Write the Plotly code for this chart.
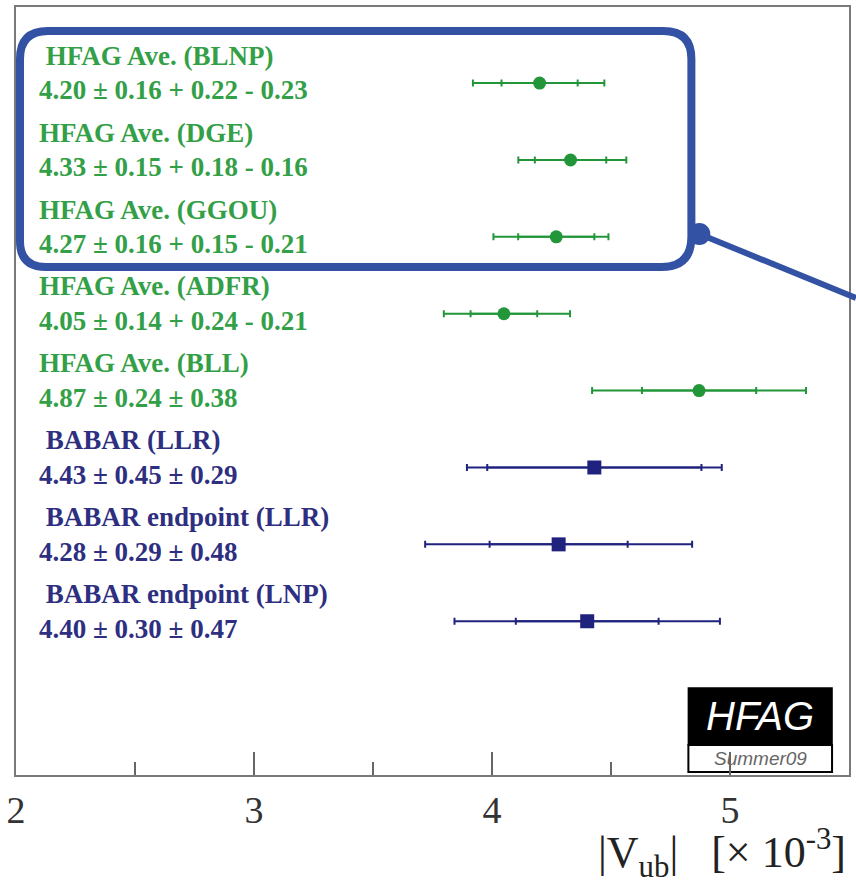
import plotly.graph_objects as go

# ---------------- data ----------------
names = ["\u00a0HFAG Ave. (BLNP)", "HFAG Ave. (DGE)", "HFAG Ave. (GGOU)",
         "HFAG Ave. (ADFR)", "HFAG Ave. (BLL)", "\u00a0BABAR (LLR)",
         "\u00a0BABAR endpoint (LLR)", "\u00a0BABAR endpoint (LNP)"]
values = [4.20, 4.33, 4.27, 4.05, 4.87, 4.43, 4.28, 4.40]
stat = [0.16, 0.15, 0.16, 0.14, 0.24, 0.45, 0.29, 0.30]
syst_plus = [0.22, 0.18, 0.15, 0.24, 0.38, 0.29, 0.48, 0.47]
syst_minus = [0.23, 0.16, 0.21, 0.21, 0.38, 0.29, 0.48, 0.47]
groups = ["HFAG", "HFAG", "HFAG", "HFAG", "HFAG", "BABAR", "BABAR", "BABAR"]
x_ticks = [2, 3, 4, 5]

GREEN_TXT = "#33a047"
GREEN = "#23963a"
NAVY_TXT = "#2e2f80"
NAVY = "#1f237e"
CALLOUT = "#3452a4"

rows = list(range(len(names)))
tot_plus = [(s ** 2 + p ** 2) ** 0.5 for s, p in zip(stat, syst_plus)]
tot_minus = [(s ** 2 + m ** 2) ** 0.5 for s, m in zip(stat, syst_minus)]

def fmt(v, s, p, m):
    if abs(p - m) < 1e-9:
        return f"{v:.2f} \u00b1 {s:.2f} \u00b1 {p:.2f}"
    return f"{v:.2f} \u00b1 {s:.2f} + {p:.2f} - {m:.2f}"

value_labels = [fmt(v, s, p, m) for v, s, p, m in zip(values, stat, syst_plus, syst_minus)]

fig = go.Figure()

for grp, col, sym, size in [("HFAG", GREEN, "circle", 13), ("BABAR", NAVY, "square", 14)]:
    idx = [i for i, g in enumerate(groups) if g == grp]
    xs = [values[i] for i in idx]
    ys = [rows[i] for i in idx]
    # total error
    fig.add_trace(go.Scatter(
        x=xs, y=ys, mode="markers", marker=dict(size=1, color="rgba(0,0,0,0)"),
        error_x=dict(type="data", symmetric=False,
                     array=[tot_plus[i] for i in idx],
                     arrayminus=[tot_minus[i] for i in idx],
                     color=col, thickness=2, width=3.5),
        showlegend=False, hoverinfo="skip"))
    # statistical error + central value
    fig.add_trace(go.Scatter(
        x=xs, y=ys, mode="markers",
        marker=dict(size=size, color=col, symbol=sym, line=dict(width=0)),
        error_x=dict(type="data", array=[stat[i] for i in idx],
                     color=col, thickness=2, width=3.5),
        showlegend=False))

# ---------------- layout geometry helpers (decorations) ----------------
PL, PR, PT, PB = 16, 851, 7, 775

def fx(px):
    return (px - PL) / (PR - PL)

def fy(py):
    return (PB - py) / (PB - PT)

annotations = []
for i in rows:
    col = GREEN_TXT if groups[i] == "HFAG" else NAVY_TXT
    annotations.append(dict(x=fx(37), y=rows[i] - 0.355, xref="paper", yref="y",
                            text=names[i], showarrow=False, xanchor="left", yanchor="middle",
                            font=dict(family="Liberation Serif", size=27, color=col, weight="bold")))
    annotations.append(dict(x=fx(37), y=rows[i] + 0.095, xref="paper", yref="y",
                            text=value_labels[i], showarrow=False, xanchor="left", yanchor="middle",
                            font=dict(family="Liberation Serif", size=27, color=col, weight="bold")))

# axis title
annotations.append(dict(x=fx(849), y=fy(885), xref="paper", yref="paper",
                        text="|V<sub>ub</sub>|\u00a0\u00a0\u00a0[\u00d7 10<sup>-3</sup>]",
                        showarrow=False, xanchor="right", yanchor="bottom", borderpad=0,
                        font=dict(family="Liberation Serif", size=44, color="#222222")))
# HFAG logo text
annotations.append(dict(x=fx(762), y=fy(716), xref="paper", yref="paper", text="HFAG",
                        showarrow=False, xanchor="center", yanchor="middle",
                        font=dict(family="Liberation Sans", size=40, color="white", style="italic")))
annotations.append(dict(x=fx(762), y=fy(758), xref="paper", yref="paper", text="Summer09",
                        showarrow=False, xanchor="center", yanchor="middle",
                        font=dict(family="Liberation Sans", size=19, color="#666666", style="italic")))

def rrect(x0, y0, x1, y1, rtl, rtr, rbr, rbl):
    pts = [
        ("M", [(x0, y0 + rtl)]),
        ("Q", [(x0, y0), (x0 + rtl, y0)]),
        ("L", [(x1 - rtr, y0)]),
        ("Q", [(x1, y0), (x1, y0 + rtr)]),
        ("L", [(x1, y1 - rbr)]),
        ("Q", [(x1, y1), (x1 - rbr, y1)]),
        ("L", [(x0 + rbl, y1)]),
        ("Q", [(x0, y1), (x0, y1 - rbl)]),
    ]
    s = ""
    for cmd, ps in pts:
        s += cmd + " " + " ".join(f"{fx(a):.5f},{fy(b):.5f}" for a, b in ps) + " "
    return s + "Z"

shapes = [
    # HFAG logo
    dict(type="rect", xref="paper", yref="paper", x0=fx(690), x1=fx(834), y0=fy(745), y1=fy(688),
         fillcolor="black", line=dict(color="black", width=1.5), layer="below"),
    dict(type="rect", xref="paper", yref="paper", x0=fx(690), x1=fx(834), y0=fy(772), y1=fy(745),
         fillcolor="white", line=dict(color="black", width=2), layer="below"),
    # callout box
    dict(type="path", xref="paper", yref="paper", path=rrect(20, 31, 693, 267, 28, 28, 30, 26),
         line=dict(color=CALLOUT, width=8), layer="above"),
    dict(type="line", xref="paper", yref="paper", x0=fx(701), y0=fy(234), x1=fx(858), y1=fy(298),
         line=dict(color=CALLOUT, width=6), layer="above"),
    dict(type="circle", xref="paper", yref="paper", x0=fx(690), x1=fx(712), y0=fy(245), y1=fy(223),
         fillcolor=CALLOUT, line=dict(color=CALLOUT, width=0), layer="above"),
]

fig.update_layout(
    width=856, height=886,
    margin=dict(l=PL, r=856 - PR, t=PT, b=886 - PB, pad=0),
    paper_bgcolor="white", plot_bgcolor="rgba(0,0,0,0)",
    showlegend=False,
    annotations=annotations,
    shapes=shapes,
    xaxis=dict(range=[2, 5.5], tickvals=x_ticks, ticktext=[str(t) for t in x_ticks],
               ticks="inside", ticklen=23, tickwidth=1.5, tickcolor="#666666",
               minor=dict(dtick=0.5, ticks="inside", ticklen=13, tickwidth=1.5, tickcolor="#666666",
                          showgrid=False),
               showgrid=False, zeroline=False, showline=True, linecolor="#7a7a7a", linewidth=2,
               mirror=True, ticklabelstandoff=0,
               tickfont=dict(family="Liberation Serif", size=38, color="#333333")),
    yaxis=dict(range=[9.0, -0.99], showticklabels=False, ticks="", showgrid=False, zeroline=False,
               showline=True, linecolor="#7a7a7a", linewidth=2, mirror=True),
)

fig.write_html("out.html")
